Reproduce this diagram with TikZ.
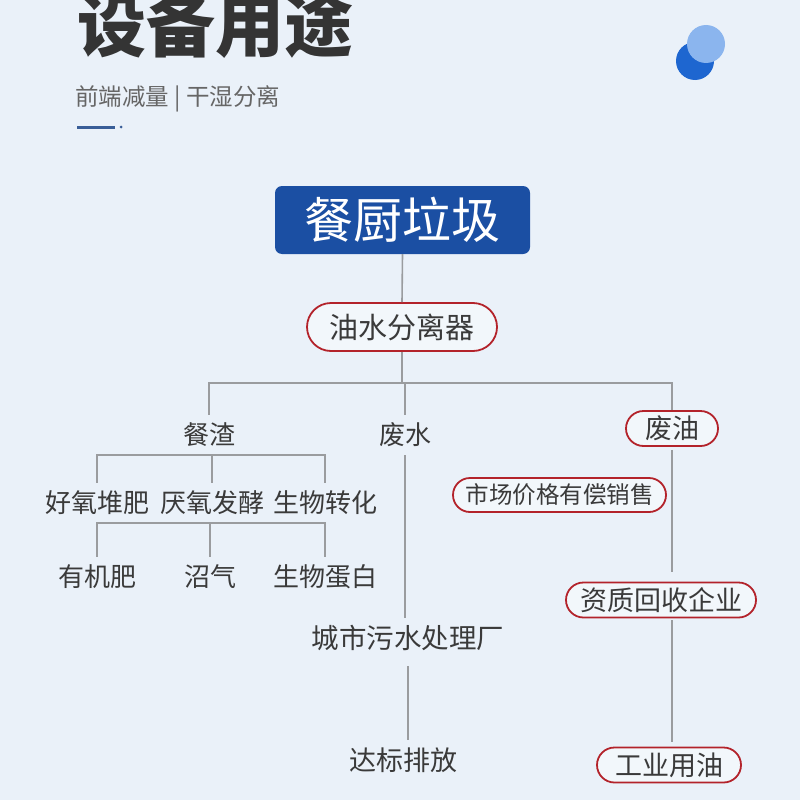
\documentclass[tikz,border=0pt]{standalone}
\usepackage{fontspec}
\newfontfamily\cjk{Noto Sans CJK SC}
\usetikzlibrary{shapes.misc, positioning}

\definecolor{pagebg}{HTML}{EAF1F9}
\definecolor{inkgray}{HTML}{3A3A3A}
\definecolor{linegray}{HTML}{9A9C9F}
\definecolor{pillred}{HTML}{B3232B}
\definecolor{boxblue}{HTML}{1B4FA3}
\definecolor{dotdark}{HTML}{1E66D0}
\definecolor{dotlight}{HTML}{8BB5EE}

\begin{document}
\begin{tikzpicture}[
		x=1pt, y=-1pt,
		% Text styles
		leaf/.style={text=inkgray, inner sep=0pt, minimum height=40pt, font=\cjk\fontsize{26}{26}\selectfont},
		pill/.style={rounded rectangle, draw=pillred, line width=1.8pt, fill=pagebg!60!white, text=inkgray, inner sep=0pt, minimum height=35pt, font=\cjk\fontsize{27}{27}\selectfont},
		% Connector style
		link/.style={draw=linegray, line width=1.6pt}
		]
		
		% --- BACKGROUND AND HEADER ---
		\fill[pagebg] (0,0) rectangle (800,800);
		\useasboundingbox (0,0) rectangle (800,800);
		
		\node[anchor=west, inner sep=0pt, text=inkgray!90!black, font=\cjk\bfseries\fontsize{69}{69}\selectfont] (title) at (77,25) {设备用途};
		\node[anchor=west, inner sep=0pt, text=black!60, font=\cjk\fontsize{23.5}{23.5}\selectfont] (subtitle) at (75,99) {前端减量 | 干湿分离};
		\draw[boxblue!70!gray, line width=3pt] (77,127) -- (115,127);
		\fill[boxblue!70!gray] (121,127) circle (1.5);
		
		\fill[dotdark] (695,61) circle (19);
		\fill[dotlight] (706,44) circle (19);
		
		% --- ROOT AND SEPARATOR ---
		\node[fill=boxblue, rounded corners=7pt, minimum width=255pt, minimum height=68pt, inner sep=0pt, text=white, font=\cjk\fontsize{49}{49}\selectfont] (root) at (402.5,220) {餐厨垃圾};
		\node[pill, minimum width=190pt, minimum height=48pt, font=\cjk\fontsize{29}{29}\selectfont] (sep) at (402,327) {油水分离器};
		
		% --- FIRST LEVEL ---
		\node[leaf] (zha) at (209,435) {餐渣};
		\node[leaf] (shui) at (405,435) {废水};
		\node[pill, minimum width=92pt] (you) at (672,428.5) {废油};
		
		% Food residue branches
		\node[leaf] (hao) at (97,503) {好氧堆肥};
		\node[leaf] (yan) at (212,503) {厌氧发酵};
		\node[leaf] (sheng) at (325,503) {生物转化};
		\node[leaf] (fei) at (97,577) {有机肥};
		\node[leaf] (qi) at (210,577) {沼气};
		\node[leaf] (danbai) at (325,577) {生物蛋白};
		
		% Waste water branch
		\node[leaf, font=\cjk\fontsize{27.5}{27.5}\selectfont] (city) at (408,638) {城市污水处理厂};
		\node[leaf, font=\cjk\fontsize{27}{27}\selectfont] (dabiao) at (403,760) {达标排放};
		
		% Waste oil branch
		\node[pill, minimum width=213pt, minimum height=34pt, font=\cjk\fontsize{23.5}{23.5}\selectfont] (market) at (559.5,495) {市场价格有偿销售};
		\node[pill, minimum width=190pt] (zizhi) at (661,600) {资质回收企业};
		\node[pill, minimum width=144pt] (gongye) at (669,765) {工业用油};
		
		% --- CONNECTORS ---
		\draw[link] (root.south) -- (sep.north);
		\draw[link] (sep.south) -- ++(0,31) coordinate (bar);
		\draw[link] (zha.north) |- (bar) -| (you.north);
		\draw[link] (shui.north) -- (shui.north |- bar);
		
		\draw[link] (hao.north) |- (zha.south) -| (sheng.north);
		\draw[link] (yan.north) -- (yan.north |- zha.south);
		\draw[link] (fei.north) |- (hao.south) -| (danbai.north);
		\draw[link] (qi.north) -- (qi.north |- hao.south);
		
		\draw[link] (shui.south) -- (city.north -| shui.south);
		\draw[link, shorten <=8pt] (city.south) -- (city.south |- dabiao.north);
		
		\draw[link, shorten <=3pt, shorten >=10pt] (you.south) -- (you.south |- zizhi.north);
		\draw[link, shorten <=2pt, shorten >=5pt] (zizhi.south -| you.south) -- (you.south |- gongye.north);
		
	\end{tikzpicture}
\end{document}
